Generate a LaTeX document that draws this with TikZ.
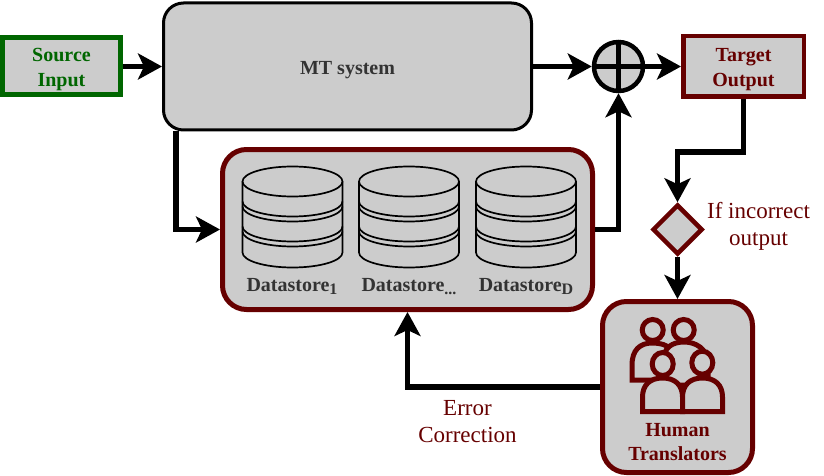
\documentclass[tikz,border=0pt]{standalone}
\usepackage{fontspec}
\setmainfont{Liberation Serif}
\usetikzlibrary{arrows.meta}
\usetikzlibrary{shapes.geometric}
\definecolor{boxgray}{HTML}{CCCCCC}
\definecolor{darkred}{HTML}{660000}
\definecolor{darkgreen}{HTML}{006600}
\definecolor{labelgray}{HTML}{333333}
\newcommand{\storesub}[1]{\raisebox{-3.5pt}{\fontsize{16}{16}\selectfont #1}}
\newcommand{\dropline}{\rule{0pt}{19.5pt}}
\tikzset{
	boxnode/.style = {align=center, inner sep=0pt, fill=boxgray,
		font=\fontsize{20}{25}\selectfont\bfseries},
	src_n/.style = {boxnode, rectangle, draw=darkgreen,
		text=darkgreen, line width=5pt, minimum width=118pt, minimum height=57pt},
	tgt_n/.style = {boxnode, rectangle, draw=darkred, text=darkred,
		line width=4.5pt, minimum width=120.5pt, minimum height=60.5pt},
	mt_n/.style = {boxnode, rectangle, rounded corners=20pt, draw=black,
		text=labelgray, line width=3pt, minimum width=368pt, minimum height=127pt},
	group_n/.style = {boxnode, rectangle, rounded corners=24pt, draw=darkred,
		line width=5pt},
	sum_n/.style = {circle, draw=black, fill=boxgray, line width=4.5pt,
		minimum size=49pt, inner sep=0pt},
	check_n/.style = {diamond, draw=darkred, fill=boxgray, line width=4.5pt,
		minimum width=50pt, minimum height=50pt, inner sep=0pt},
	note_n/.style = {align=center, inner sep=0pt, text=darkred,
		font=\fontsize{23}{27}\selectfont},
	store_lbl/.style = {inner sep=0pt, anchor=base, text=labelgray,
		font=\fontsize{20}{24}\selectfont\bfseries},
	link/.style = {line width=5.5pt, draw=black,
		-{Stealth[length=24pt,width=26pt,inset=6pt]}},
	drum/.style = {line width=1.7pt, draw=black},
	person/.style = {line width=5pt, draw=darkred, fill=boxgray},
	datastore/.pic = {
		\draw[drum] (-50,0) -- (-50,71) arc[start angle=180, end angle=360, x radius=50, y radius=-15]
			-- (50,0);
		\draw[drum] (0,0) ellipse [x radius=50, y radius=15];
		\foreach \dy in {20,25,45,50}
			\draw[drum] (-50,\dy) arc[start angle=180, end angle=360, x radius=50, y radius=-15];
	}
}
\begin{document}
\begin{tikzpicture}[x=1pt,y=-1pt]
	\useasboundingbox (0,0) rectangle (824,476);
	% boxes
	\node [src_n] (source) at (61.5,66.5) {\dropline Source\\Input};
	\node [mt_n] (mt) at (347.5,66.5) {\dropline MT system};
	\node [sum_n] (sum) at (618.5,66.5) {};
	\node [tgt_n] (target) at (743.5,66.5) {\dropline Target\\Output};
	\node [check_n] (check) at (677.5,229.5) {};
	\node [group_n, minimum width=370pt, minimum height=160pt] (stores) at (407.5,229.5) {};
	\node [group_n, minimum width=150pt, minimum height=171pt] (human) at (677.5,387) {};
	\draw[line width=4.5pt] (sum.north) -- (sum.south);
	\draw[line width=4.5pt] (sum.west) -- (sum.east);
	% datastores
	\pic at (292.5,181.5) {datastore};
	\pic at (409,181.5) {datastore};
	\pic at (526,181.5) {datastore};
	\node [store_lbl] (store_a) at (292,291) {Datastore\storesub{1}};
	\node [store_lbl] (store_b) at (409,291) {Datastore\storesub{...}};
	\node [store_lbl] (store_c) at (526,291) {Datastore\storesub{D}};
	% people, back row first
	\draw[person] (632,380) -- (632,365) .. controls (632,350) and (640,343) .. (652,343)
		.. controls (660,343) and (668,345) .. (672,350) -- (672,380) -- cycle;
	\draw[person] (664,385) -- (664,358) .. controls (664,348) and (672,342) .. (684,342)
		.. controls (695,342) and (708,348) .. (708,365) -- (708,385) -- cycle;
	\draw[person] (652.7,330) ellipse [x radius=10.5, y radius=10.5];
	\draw[person] (683.7,330) ellipse [x radius=10.5, y radius=10.5];
	\draw[person] (642.5,411.7) -- (642.5,397) .. controls (642.5,385) and (650,378) .. (662.5,378)
		.. controls (675,378) and (682.5,385) .. (682.5,397) -- (682.5,411.7) -- cycle;
	\draw[person] (682.5,411.7) -- (682.5,397) .. controls (682.5,385) and (690,378) .. (702.5,378)
		.. controls (715,378) and (722.5,385) .. (722.5,397) -- (722.5,411.7) -- cycle;
	\draw[person] (662.7,364) ellipse [x radius=10.5, y radius=11.5];
	\draw[person] (702.3,362.7) ellipse [x radius=10.5, y radius=11.5];
	\node [note_n, font=\fontsize{20}{24}\selectfont\bfseries] (human_lbl) at (677.5,442) {Human\\Translators};
	% links
	\draw[link] (source) -- (mt);
	\draw[link] (mt) -- (sum);
	\draw[link] (sum) -- (target);
	\coordinate (mt_out) at (176,131);
	\draw[link] (mt_out) |- (stores.west);
	\draw[link] (stores.east) -| (sum.south);
	\draw[link] (target.south) -- ++(0,53) -| (check.north);
	\draw[link] (check.south) -- (human.north);
	\draw[link] (human.west) -| (stores.south);
	% notes
	\node [note_n] (note_check) at (758.5,226.5) {If incorrect\\output};
	\node [note_n] (note_fix) at (467.5,421.5) {Error\\Correction};
\end{tikzpicture}
\end{document}
